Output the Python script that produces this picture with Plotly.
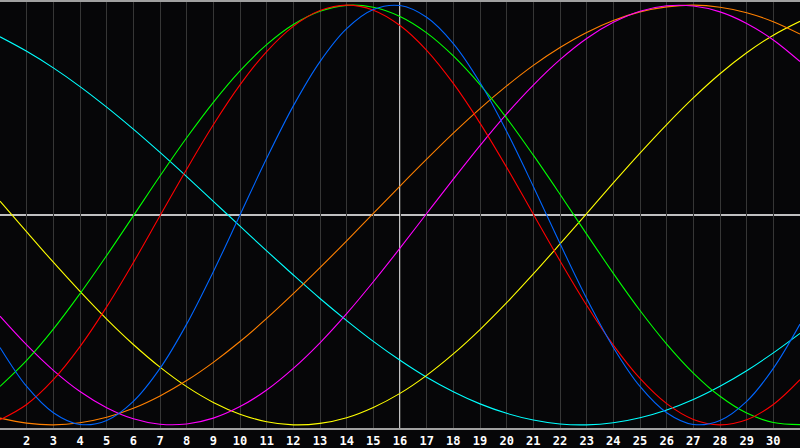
import plotly.graph_objects as go

days = list(range(1, 32))
tick_days = list(range(2, 31))
tick_labels = [str(d) for d in tick_days]
center_day = 16

cyan = [0.849, 0.78, 0.701, 0.612, 0.514, 0.409, 0.298, 0.183, 0.065, -0.053, -0.171, -0.286, -0.398, -0.503, -0.602, -0.692, -0.773, -0.842, -0.9, -0.945, -0.977, -0.996, -1.0, -0.99, -0.966, -0.929, -0.879, -0.816, -0.742, -0.657, -0.564]
yellow = [0.066, -0.08, -0.225, -0.364, -0.496, -0.617, -0.725, -0.818, -0.893, -0.949, -0.985, -1.0, -0.993, -0.966, -0.917, -0.85, -0.764, -0.662, -0.546, -0.418, -0.281, -0.138, 0.007, 0.153, 0.295, 0.431, 0.558, 0.673, 0.773, 0.857, 0.923]
orange = [-0.968, -0.992, -1.0, -0.99, -0.964, -0.921, -0.862, -0.789, -0.702, -0.603, -0.493, -0.375, -0.251, -0.123, 0.008, 0.138, 0.266, 0.39, 0.507, 0.615, 0.713, 0.798, 0.87, 0.927, 0.968, 0.992, 1.0, 0.99, 0.964, 0.921, 0.862]
magenta = [-0.482, -0.619, -0.74, -0.841, -0.918, -0.971, -0.997, -0.996, -0.968, -0.913, -0.834, -0.731, -0.609, -0.47, -0.318, -0.158, 0.007, 0.171, 0.331, 0.482, 0.619, 0.74, 0.841, 0.918, 0.971, 0.997, 0.996, 0.968, 0.913, 0.834, 0.731]
green = [-0.817, -0.693, -0.544, -0.375, -0.193, -0.004, 0.186, 0.368, 0.537, 0.687, 0.812, 0.908, 0.971, 0.999, 0.99, 0.946, 0.868, 0.758, 0.621, 0.462, 0.285, 0.099, -0.091, -0.278, -0.455, -0.615, -0.753, -0.864, -0.944, -0.989, -0.999]
red = [-0.976, -0.903, -0.785, -0.627, -0.438, -0.227, -0.004, 0.218, 0.43, 0.62, 0.779, 0.899, 0.974, 1.0, 0.976, 0.903, 0.785, 0.627, 0.438, 0.227, 0.004, -0.218, -0.43, -0.62, -0.779, -0.899, -0.974, -1.0, -0.976, -0.903, -0.785]
blue = [-0.631, -0.817, -0.942, -0.998, -0.979, -0.888, -0.731, -0.52, -0.27, 0.0, 0.27, 0.52, 0.731, 0.888, 0.979, 0.998, 0.942, 0.817, 0.631, 0.398, 0.136, -0.136, -0.398, -0.631, -0.817, -0.942, -0.998, -0.979, -0.888, -0.731, -0.52]

series = [
    (cyan, "#00ffff"),
    (yellow, "#ffff00"),
    (orange, "#ff8000"),
    (magenta, "#ff00ff"),
    (green, "#00ff00"),
    (red, "#ff0000"),
    (blue, "#0066ff"),
]

fig = go.Figure()
for vals, col in series:
    fig.add_trace(go.Scatter(x=days, y=vals, mode="lines",
                             line=dict(color=col, width=1.1, shape="spline", smoothing=1),
                             showlegend=False, hoverinfo="skip"))

fig.add_vline(x=center_day, line=dict(color="white", width=1.5), layer="below")
fig.add_hline(y=0, line=dict(color="white", width=1.5), layer="below")

fig.update_layout(width=800, height=448, margin=dict(l=0, r=0, t=0, b=20),
                  paper_bgcolor="#060608", plot_bgcolor="#060608")
fig.update_xaxes(range=[days[0], days[-1]], tickvals=tick_days, ticktext=tick_labels,
                 showgrid=True, gridcolor="#363636", gridwidth=1,
                 tickfont=dict(color="white", size=12, family="DejaVu Sans Mono", weight="bold"),
                 showline=True, linecolor="#a0a0a0", linewidth=1.5, mirror=True,
                 zeroline=False, ticks="", ticklabelstandoff=1)
fig.update_yaxes(range=[-1.015, 1.015], showgrid=False, showticklabels=False, zeroline=False,
                 showline=True, linecolor="#a0a0a0", linewidth=1.5)
fig.write_html("out.html", config={"displayModeBar": False},
               post_script="document.body.style.margin='0';document.body.style.overflow='hidden';document.body.style.background='#060608';")
